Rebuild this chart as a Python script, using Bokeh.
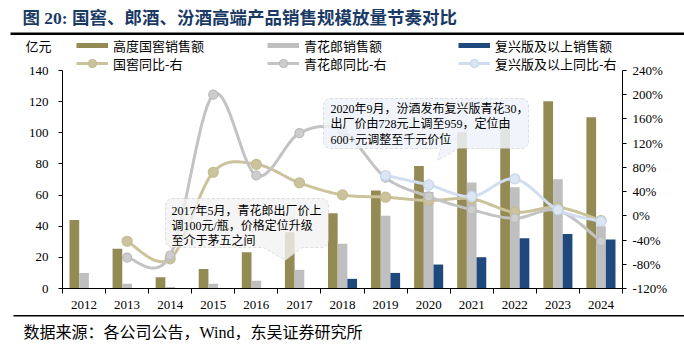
import numpy as np
from bokeh.plotting import figure
from bokeh.models import (Range1d, LinearAxis, FixedTicker, PrintfTickFormatter,
                          ColumnDataSource, Legend, LegendItem, Label, PolyAnnotation)
from bokeh.transform import dodge
from bokeh.embed import file_html
from bokeh.resources import INLINE

# ---------------- data ----------------
years = ["2012", "2013", "2014", "2015", "2016", "2017", "2018",
         "2019", "2020", "2021", "2022", "2023", "2024"]
guojiao_sales = [44.0, 25.5, 7.3, 12.6, 23.3, 36.2, 48.4, 63.0, 78.6, 100.4, 106.0, 120.3, 110.0]
qhl_sales = [10.0, 3.0, 1.0, 3.0, 5.0, 12.0, 28.7, 46.8, 62.0, 68.0, 65.0, 70.2, 40.0]
fx_sales = [np.nan, np.nan, np.nan, np.nan, np.nan, np.nan, 6.2, 10.0, 15.4, 20.1, 32.3, 35.0, 31.5]
guojiao_yoy = [np.nan, -42, -71, 72, 85, 54.5, 34.6, 30.8, 25.3, 28, 6, 14, -7.7]
qhl_yoy = [np.nan, -69, -65.5, 200, 66.6, 136.5, 140, 63, 32, 10, -4, 9, -42]
fx_yoy = [np.nan, np.nan, np.nan, np.nan, np.nan, np.nan, np.nan, 66.6, 51, 32, 61, 10, -9]
left_ticks = [0, 20, 40, 60, 80, 100, 120, 140]
right_ticks = [-120, -80, -40, 0, 40, 80, 120, 160, 200, 240]

series_names = ["高度国窖销售额", "青花郎销售额", "复兴版及以上销售额",
                "国窖同比-右", "青花郎同比-右", "复兴版及以上同比-右"]
title_text = "图 20: 国窖、郎酒、汾酒高端产品销售规模放量节奏对比"
source_text = "数据来源：各公司公告，Wind，东吴证券研究所"
unit_text = "亿元"
note1 = ["2017年5月，青花郎出厂价上", "调100元/瓶，价格定位升级", "至介于茅五之间"]
note2 = ["2020年9月，汾酒发布复兴版青花30，", "出厂价由728元上调至959，定位由", "600+元调整至千元价位"]

# ---------------- style ----------------
C_GJ, C_QHL, C_FX = "#948A54", "#BFBFBF", "#1F497D"
C_GJ_L, C_QHL_L, C_FX_L = "#CBC39B", "#C3C3C3", "#D0DEF0"
M_GJ = ("#CBC39B", "#C4BB90")
M_QHL = ("#CDCDCD", "#B9B9B9")
M_FX = ("#DCE6F3", "#C4D5EC")
SERIF = "Liberation Serif"
CJK = "Noto Sans CJK SC"
MIX = "Liberation Serif, Noto Sans CJK SC"

W, H = 684, 352
X0, X1, Y0, Y1 = 62, 622, 70, 288      # plot area in canvas px
LMIN, LMAX = left_ticks[0], left_ticks[-1]
RMIN, RMAX = right_ticks[0], right_ticks[-1]
ncat = len(years)
ux = (X1 - X0) / ncat
uy = (Y1 - Y0) / (LMAX - LMIN)
ur = (Y1 - Y0) / (RMAX - RMIN)

# whole canvas is the frame; axes are pinned with fixed_location
p = figure(width=W, height=H, output_backend="svg", toolbar_location=None,
           x_range=Range1d(-X0 / ux, ncat + (W - X1) / ux),
           y_range=Range1d(LMIN - (H - Y1) / uy, LMAX + Y0 / uy),
           min_border=0)
p.extra_y_ranges = {"pct": Range1d(RMIN - (H - Y1) / ur, RMAX + Y0 / ur)}
p.xgrid.visible = False
p.ygrid.visible = False
p.outline_line_color = None
p.background_fill_color = "white"

xc = np.arange(ncat) + 0.5
src = ColumnDataSource(dict(x=xc, gj=guojiao_sales, qhl=qhl_sales, fx=fx_sales,
                            gjy=guojiao_yoy, qhly=qhl_yoy, fxy=fx_yoy))
bw = 0.225
p.vbar(x=dodge("x", -bw), top="gj", width=bw, source=src, fill_color=C_GJ, line_color=None)
p.vbar(x="x", top="qhl", width=bw, source=src, fill_color=C_QHL, line_color=None)
p.vbar(x=dodge("x", bw), top="fx", width=bw, source=src, fill_color=C_FX, line_color=None)


def smooth(x, y, n=24):
    """Catmull-Rom path through the data points (drawing only)."""
    x = np.asarray(x, float)
    y = np.asarray(y, float)
    m = ~np.isnan(y)
    x, y = x[m], y[m]
    px = np.concatenate([[x[0]], x, [x[-1]]])
    py = np.concatenate([[y[0]], y, [y[-1]]])
    ox, oy = [], []
    for i in range(len(x) - 1):
        last = i == len(x) - 2
        t = np.linspace(0, 1, n + 1 if last else n, endpoint=last)
        h00 = 2 * t**3 - 3 * t**2 + 1
        h10 = t**3 - 2 * t**2 + t
        h01 = -2 * t**3 + 3 * t**2
        h11 = t**3 - t**2
        for P, O in ((px, ox), (py, oy)):
            p0, p1, p2, p3 = P[i], P[i + 1], P[i + 2], P[i + 3]
            m1 = (p2 - p0) / 2.0
            m2 = (p3 - p1) / 2.0
            O.extend(h00 * p1 + h10 * m1 + h01 * p2 + h11 * m2)
    return ox, oy


line_specs = [("gjy", guojiao_yoy, C_GJ_L, M_GJ, 10),
              ("qhly", qhl_yoy, C_QHL_L, M_QHL, 9),
              ("fxy", fx_yoy, C_FX_L, M_FX, 10)]
line_rs = []
for col, vals, color, (mf, ml), sz in line_specs:
    sx, sy = smooth(xc, vals)
    lr = p.line(sx, sy, y_range_name="pct", line_color=color, line_width=3)
    sr = p.scatter(x="x", y=col, source=src, y_range_name="pct", marker="circle", size=sz,
                   fill_color=mf, line_color=ml, line_width=1.2)
    line_rs.append([lr, sr])

# proxy renderers (no visible marks) for the bar legend swatches
proxies = [p.line(x=[np.nan], y=[np.nan], line_color=c, line_width=5, line_cap="butt")
           for c in (C_GJ, C_QHL, C_FX)]

# ---------------- axes ----------------
xa = p.xaxis[0]
xa.ticker = FixedTicker(ticks=list(xc), minor_ticks=list(range(ncat + 1)))
xa.major_label_overrides = {float(c): y for c, y in zip(xc, years)}
xa.major_tick_out = 0
xa.major_tick_in = 0
xa.minor_tick_out = 5
xa.minor_tick_in = 0
xa.major_label_standoff = 7
xa.fixed_location = LMIN
xa.bounds = (0, ncat)

ya = p.yaxis[0]
ya.ticker = FixedTicker(ticks=left_ticks)
ya.major_tick_out = 4
ya.major_tick_in = 0
ya.major_label_standoff = 10
ya.fixed_location = 0
ya.bounds = (LMIN, LMAX)

ra = LinearAxis(y_range_name="pct", ticker=FixedTicker(ticks=right_ticks),
                formatter=PrintfTickFormatter(format="%d%%"))
ra.major_tick_out = 4
ra.major_tick_in = 0
ra.major_label_standoff = 6
ra.fixed_location = ncat
ra.bounds = (RMIN, RMAX)
p.add_layout(ra, "right")

for ax in (xa, ya, ra):
    ax.axis_line_color = "#000000"
    ax.major_tick_line_color = "#000000"
    ax.minor_tick_line_color = "#000000"
    ax.major_label_text_font = SERIF
    ax.major_label_text_font_size = "13px"
    ax.major_label_text_color = "#000000"

# ---------------- legends (location = bottom-left corner, canvas px from bottom) ----------------
common = dict(orientation="horizontal", glyph_width=32, glyph_height=20, label_height=20,
              label_width=140, label_standoff=5, spacing=14, padding=0, margin=0,
              border_line_color=None, background_fill_alpha=0,
              label_text_font=CJK, label_text_font_size="13px", label_text_color="#000000")
leg1 = Legend(items=[LegendItem(label=series_names[i], renderers=[proxies[i]]) for i in range(3)],
              location=(76, H - 55), **common)
leg2 = Legend(items=[LegendItem(label=series_names[3 + i], renderers=line_rs[i]) for i in range(3)],
              location=(76, H - 73), **common)
p.add_layout(leg1)
p.add_layout(leg2)


# ---------------- texts & decorations (canvas px, y from top) ----------------
def label(text, cx, cy, size, font, bold=False, color="#000000", align="left"):
    p.add_layout(Label(x=cx, y=H - cy, x_units="screen", y_units="screen", text=text,
                       text_font=font, text_font_size=f"{size}px",
                       text_font_style="bold" if bold else "normal",
                       text_color=color, text_align=align, text_baseline="middle"))


def poly(pts, fill, alpha=1.0, line_color=None, dash="solid", lw=1):
    p.add_layout(PolyAnnotation(xs=[a for a, _ in pts], ys=[H - b for _, b in pts],
                                xs_units="screen", ys_units="screen",
                                fill_color=fill, fill_alpha=alpha,
                                line_color=line_color, line_dash=dash, line_width=lw))


def callout(x0, y0, x1, y1, r, tail):
    bx0, bx1, tx, ty = tail
    pts = []

    def arc(cx, cy, a0, a1):
        for a in np.linspace(np.radians(a0), np.radians(a1), 6):
            pts.append((cx + r * np.cos(a), cy + r * np.sin(a)))
    arc(x1 - r, y0 + r, -90, 0)
    arc(x1 - r, y1 - r, 0, 90)
    pts.extend([(bx1, y1), (tx, ty), (bx0, y1)])
    arc(x0 + r, y1 - r, 90, 180)
    arc(x0 + r, y0 + r, 180, 270)
    return pts


# rules
poly([(10, 32), (684, 32), (684, 34.5), (10, 34.5)], "#000000")
poly([(13, 314.5), (684, 314.5), (684, 316), (13, 316)], "#000000")

label(title_text, 22, 17, 17.5, MIX, bold=True, color="#1A3A66")
label(unit_text, 25, 45, 13, CJK)
label(source_text, 23, 332, 16, MIX)

poly(callout(165, 198, 328, 247, 7, (263, 302, 285, 260)), "#F2F2F2", 0.8, "#9A9A9A", "3 2", 1)
poly(callout(323, 98, 528, 148, 7, (440, 458, 437, 160)), "#EEF3FA", 0.85, "#9A9A9A", "3 2", 1)
for i, t in enumerate(note1):
    label(t, 171, 210 + 15 * i, 12, MIX)
for i, t in enumerate(note2):
    label(t, 330, 108 + 15.5 * i, 12, MIX)

open("out.html", "w").write(file_html(p, INLINE))
